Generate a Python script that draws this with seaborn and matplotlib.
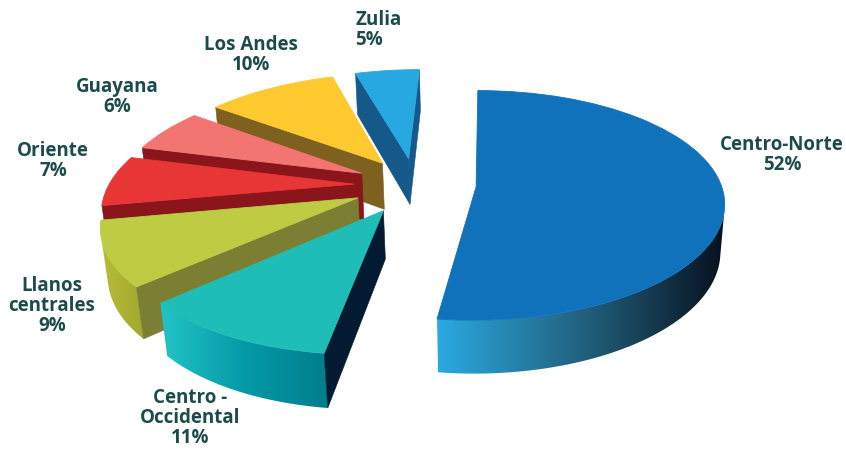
import numpy as np
import matplotlib
matplotlib.use("Agg")
import matplotlib.pyplot as plt
import matplotlib.transforms as mtransforms
from matplotlib.patches import Polygon
import seaborn as sns

# ---------------- data ----------------
regions = ["Centro-Norte", "Centro -\nOccidental", "Llanos\ncentrales",
           "Oriente", "Guayana", "Los Andes", "Zulia"]
shares = [52, 11, 9, 7, 6, 10, 5]
pct_labels = ["52%", "11%", "9%", "7%", "6%", "10%", "5%"]

# ---------------- styles ----------------
top_colors = ["#1172BC", "#1FBDB7", "#BDCC43", "#E83535", "#F27571", "#FEC92E", "#28A8E0"]
rim_colors = [["#2AAAE2", "#22627F", "#07111F"],
              ["#22C4C6", "#069AA8", "#007E8C"],
              ["#B7BE36", "#A2A82F"],
              ["#8C161B", "#861519"],
              ["#8C161B", "#861519"],
              ["#8C6B1F", "#7A5C1C"],
              ["#1B6592", "#14527A"]]
face_colors = ["#0B2036", "#021B33", "#7A7F33", "#8A161B", "#8A161B", "#7E6020", "#15598A"]
label_pos = [(782, 155, "center"), (190, 418, "center"), (52, 306, "center"),
             (53, 161, "center"), (117, 97, "center"), (251, 55, "center"),
             (355, 30, "left")]
text_color = "#1D4B4B"

sns.set_theme(style="white")
plt.rcParams["font.family"] = ["Open Sans", "DejaVu Sans"]

# ---------------- perspective camera ----------------
PHI = np.deg2rad(27.0)
DIST = 5.5
FOC = 245.0 * DIST
CX, CY = 415.0, 185.0
XC = 0.3          # lateral camera offset
H = 0.22


def project(x, y, z):
    zv = DIST + y * np.cos(PHI) - z * np.sin(PHI)
    yv = y * np.sin(PHI) + z * np.cos(PHI)
    return CX + FOC * (x - XC) / zv + FOC * XC / DIST, CY - FOC * yv / zv, zv


CAM = np.array([XC, -DIST * np.cos(PHI), DIST * np.sin(PHI)])


class Persp(mtransforms.Transform):
    input_dims = 2
    output_dims = 2
    is_separable = False
    has_inverse = False

    def __init__(self, z=0.0):
        super().__init__()
        self.z = z

    def transform_non_affine(self, values):
        v = np.asarray(values, dtype=float)
        sx, sy, _ = project(v[:, 0], v[:, 1], self.z)
        return np.column_stack([sx, sy])


fig = plt.figure(figsize=(8.46, 4.5), dpi=100)
ax = fig.add_axes([0, 0, 1, 1])

wedges, _ = ax.pie(shares, explode=[0.25] * len(shares), startangle=90,
                   counterclock=False, colors=top_colors, radius=1,
                   wedgeprops=dict(linewidth=0.6))

ax.set_aspect("auto")
ax.set_autoscale_on(False)
ax.set_xlim(0, 846)
ax.set_ylim(450, 0)
ax.axis("off")

persp = Persp(0.0)
gradient = np.linspace(0, 1, 256).reshape(1, -1)

# order wedges back to front
order = []
for i, w in enumerate(wedges):
    cx, cy = w.center
    tm = np.deg2rad(0.5 * (w.theta1 + w.theta2))
    _, _, zv = project(cx + 0.5 * w.r * np.cos(tm), cy + 0.5 * w.r * np.sin(tm), 0.0)
    order.append((zv, i))
order.sort(reverse=True)

z = 2
for _, i in order:
    w = wedges[i]
    cx, cy = w.center
    r = w.r
    t1, t2 = np.deg2rad(w.theta1), np.deg2rad(w.theta2)
    n = max(16, int(abs(w.theta2 - w.theta1) / 0.5))
    ts = np.linspace(t1, t2, n + 1)
    ax_, ay_ = cx + r * np.cos(ts), cy + r * np.sin(ts)
    tx, ty, tz = project(ax_, ay_, 0.0)
    bx, by, bz = project(ax_, ay_, -H)
    xmin, xmax = min(tx.min(), bx.min()), max(tx.max(), bx.max())
    ymin, ymax = min(ty.min(), by.min()), max(ty.max(), by.max())

    # curved outer face: only the part that faces the camera
    vis = (np.cos(ts) * (CAM[0] - ax_) + np.sin(ts) * (CAM[1] - ay_)) > 0
    if vis.any():
        idx = np.where(vis)[0]
        sl = slice(idx.min(), idx.max() + 1)
        cmap = sns.blend_palette(rim_colors[i], as_cmap=True)
        verts = np.column_stack([np.concatenate([tx[sl], bx[sl][::-1]]),
                                 np.concatenate([ty[sl], by[sl][::-1]])])
        clip = Polygon(verts, closed=True, facecolor="none", edgecolor="none",
                       transform=ax.transData)
        im = ax.imshow(gradient, cmap=cmap, extent=(xmin, xmax, ymax, ymin),
                       aspect="auto", interpolation="bilinear", zorder=z)
        im.set_clip_path(clip)
        z += 0.01

    # radial faces (only those facing the camera)
    apx_t = project(np.array([cx]), np.array([cy]), 0.0)
    apx_b = project(np.array([cx]), np.array([cy]), -H)
    for k, th, sgn in ((0, t1, -1), (-1, t2, 1)):
        nrm = np.array([np.cos(th + sgn * np.pi / 2), np.sin(th + sgn * np.pi / 2), 0.0])
        p = np.array([cx, cy, 0.0])
        if np.dot(nrm, CAM - p) <= 0:
            continue
        fverts = [(apx_t[0][0], apx_t[1][0]), (tx[k], ty[k]), (bx[k], by[k]),
                  (apx_b[0][0], apx_b[1][0])]
        ax.add_patch(Polygon(fverts, closed=True, facecolor=face_colors[i],
                             edgecolor=face_colors[i], linewidth=0.4, zorder=z))
        z += 0.01

    w.set_transform(persp + ax.transData)
    w.set_edgecolor(w.get_facecolor())
    w.set_zorder(z)
    z += 1

for i in range(len(shares)):
    x, y, ha = label_pos[i]
    ax.text(x, y, f"{regions[i]}\n{pct_labels[i]}", ha=ha, va="center",
            multialignment=ha, fontsize=13.5, fontweight="bold",
            color=text_color, linespacing=1.0, zorder=100)

fig.savefig("out.png", dpi=100, facecolor="white")
